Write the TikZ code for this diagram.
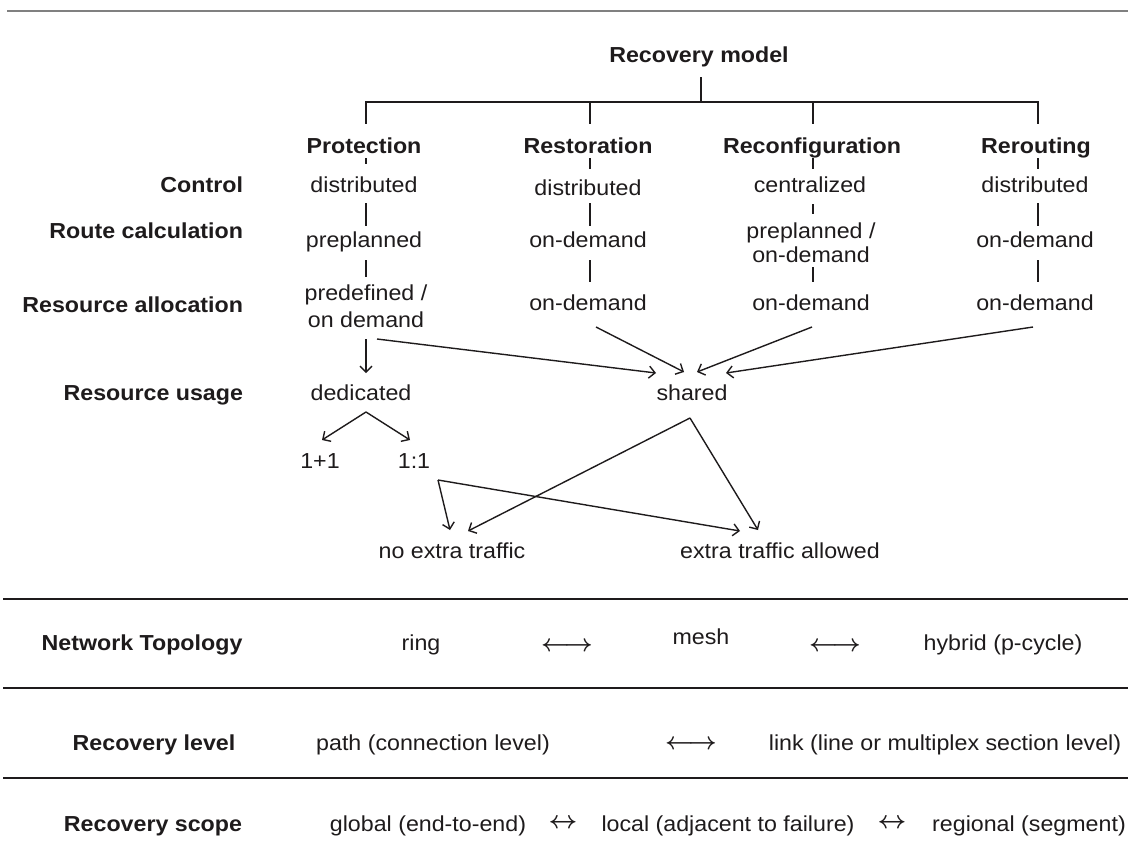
\RequirePackage{fix-cm}
\documentclass[tikz,border=0pt]{standalone}
\usepackage{fontspec}
\setmainfont{Liberation Sans}[FakeStretch=1.07]
\usetikzlibrary{arrows.meta}
\definecolor{ink}{RGB}{30,27,28}
\definecolor{rulegray}{RGB}{128,128,128}

\begin{document}
\begin{tikzpicture}[x=1pt, y=-1pt,
  txt/.style={inner sep=0pt, outer sep=0pt, text=ink, font=\fontsize{21.7}{27}\selectfont},
  hdr/.style={txt, font=\fontsize{21.7}{27}\selectfont\bfseries},
  val/.style={txt, anchor=base},
  lbl/.style={hdr, anchor=base east},
  two/.style={txt, anchor=base, align=center, font=\fontsize{21.7}{#1}\selectfont},
  lra/.style={txt, anchor=center, font=\fontsize{24.5}{28}\selectfont\boldmath},
  sra/.style={txt, anchor=center, font=\fontsize{25}{28}\selectfont\boldmath},
  treeline/.style={draw=ink, line width=2pt},
  arr/.style={draw=ink, line width=1.4pt, -{Straight Barb[length=6pt,width=12pt]}},
  rulebar/.style={draw=ink, line width=2.2pt},
  toprule/.style={draw=rulegray, line width=1.5pt},
]
\useasboundingbox (0,0) rectangle (1128,863);

% ---- page rules ----
\coordinate (t0) at (7,11);    \coordinate (t1) at (1128,11);
\coordinate (r1a) at (3,599);  \coordinate (r1b) at (1128,599);
\coordinate (r2a) at (3,688);  \coordinate (r2b) at (1128,688);
\coordinate (r3a) at (3,778);  \coordinate (r3b) at (1128,778);
\draw[toprule] (t0) -- (t1);
\draw[rulebar] (r1a) -- (r1b);
\draw[rulebar] (r2a) -- (r2b);
\draw[rulebar] (r3a) -- (r3b);

% ---- recovery model tree ----
\node[hdr, anchor=base] (model)  at (699,62)  {Recovery model};
\node[hdr, anchor=base] (prot)   at (364,153) {Protection};
\node[hdr, anchor=base] (rest)   at (588,153) {Restoration};
\node[hdr, anchor=base] (reconf) at (812,153) {Reconfiguration};
\node[hdr, anchor=base] (rerout) at (1036,153) {Rerouting};

\coordinate (mtop) at (701,77);
\coordinate (mbus) at (701,102);
\coordinate (busL) at (366,102);
\coordinate (busR) at (1038,102);
\draw[treeline] (mtop) -- (mbus);
\draw[treeline, line cap=rect] (busL) -- (busR);
\foreach \n/\x in {bp/366, bs/590, bc/813, br/1038} {
  \coordinate (\n) at (\x,102);
  \coordinate (\n e) at (\x,124);
  \draw[treeline] (\n) -- (\n e);
}

% row labels
\node[lbl] (lctl)   at (243,192) {Control};
\node[lbl] (lroute) at (243,238) {Route calculation};
\node[lbl] (lalloc) at (243,312) {Resource allocation};
\node[lbl] (lusage) at (243,400) {Resource usage};

% Protection column (two-line entries are placed by their last baseline)
\node[val] (pctl)   at (364,192) {distributed};
\node[val] (proute) at (364,247) {preplanned};
\node[two=27] (palloc) at (366,327) {predefined /\\on demand};
% Restoration column
\node[val] (sctl)   at (588,195) {distributed};
\node[val] (sroute) at (588,247) {on-demand};
\node[val] (salloc) at (588,310) {on-demand};
% Reconfiguration column
\node[val] (cctl)   at (810,192) {centralized};
\node[two=24] (croute) at (811,262) {preplanned /\\on-demand};
\node[val] (calloc) at (811,310) {on-demand};
% Rerouting column
\node[val] (rctl)   at (1035,192) {distributed};
\node[val] (rroute) at (1035,247) {on-demand};
\node[val] (ralloc) at (1035,310) {on-demand};

% short vertical links between the column entries
\foreach \n/\x/\a/\b in {
  pa/366/158/164, pb/366/203/226, pc/366/260/277,
  sa/590/158/169, sb/590/203/226, sc/590/260/282,
  ca/813/158/169, cb/813/204/214, cc/813/267/282,
  ra/1038/158/169, rb/1038/203/226, rc/1038/260/282} {
  \coordinate (\n0) at (\x,\a);
  \coordinate (\n1) at (\x,\b);
  \draw[treeline] (\n0) -- (\n1);
}

% resource usage
\node[val] (dedic)  at (361,400) {dedicated};
\node[val] (shared) at (692,400) {shared};
\node[val] (oneplus) at (320,468) {1+1};
\node[val] (onecol)  at (414,468) {1:1};
\node[val] (noextra) at (452,558) {no extra traffic};
\node[val] (extra)   at (780,558) {extra traffic allowed};

\coordinate (pA) at (366,339);  \coordinate (pB) at (366,373);
\coordinate (pC) at (377,339);  \coordinate (shA) at (656,373);
\coordinate (sA) at (596,327);  \coordinate (shB) at (684,372);
\coordinate (cA) at (812,327);  \coordinate (shC) at (697,372);
\coordinate (rA) at (1033,327); \coordinate (shD) at (726,373);
\draw[arr] (pA) -- (pB);
\draw[arr] (pC) -- (shA);
\draw[arr] (sA) -- (shB);
\draw[arr] (cA) -- (shC);
\draw[arr] (rA) -- (shD);

\coordinate (dA) at (366,412);
\coordinate (d1) at (322,440);
\coordinate (d2) at (410,440);
\draw[arr] (dA) -- (d1);
\draw[arr] (dA) -- (d2);

\coordinate (shE) at (690,418);
\coordinate (nA) at (468,531);
\coordinate (xA) at (758,530);
\draw[arr] (shE) -- (nA);
\draw[arr] (shE) -- (xA);

\coordinate (oA) at (438,480);
\coordinate (nB) at (450,530);
\coordinate (xB) at (740,531);
\draw[arr] (oA) -- (nB);
\draw[arr] (oA) -- (xB);

% ---- network topology ----
\node[hdr, anchor=base] (ntop) at (142,650) {Network Topology};
\node[val] (ring)   at (421,650) {ring};
\node[lra] (nt1)    at (567,647) {$\longleftrightarrow$};
\node[val] (mesh)   at (701,644) {mesh};
\node[lra] (nt2)    at (835,647) {$\longleftrightarrow$};
\node[val] (hybrid) at (1003,650) {hybrid (p-cycle)};

% ---- recovery level ----
\node[hdr, anchor=base] (rlev) at (154,750) {Recovery level};
\node[val] (pathl) at (433,750) {path (connection level)};
\node[lra] (rl1)   at (691,745) {$\longleftrightarrow$};
\node[val] (linkl) at (945,750) {link (line or multiplex section level)};

% ---- recovery scope ----
\node[hdr, anchor=base] (rsc) at (153,831) {Recovery scope};
\node[val] (glob)  at (428,831) {global (end-to-end)};
\node[sra] (rs1)   at (563,824) {$\leftrightarrow$};
\node[val] (loc)   at (728,831) {local (adjacent to failure)};
\node[sra] (rs2)   at (892,824) {$\leftrightarrow$};
\node[val] (reg)   at (1029,831) {regional (segment)};
\end{tikzpicture}
\end{document}
